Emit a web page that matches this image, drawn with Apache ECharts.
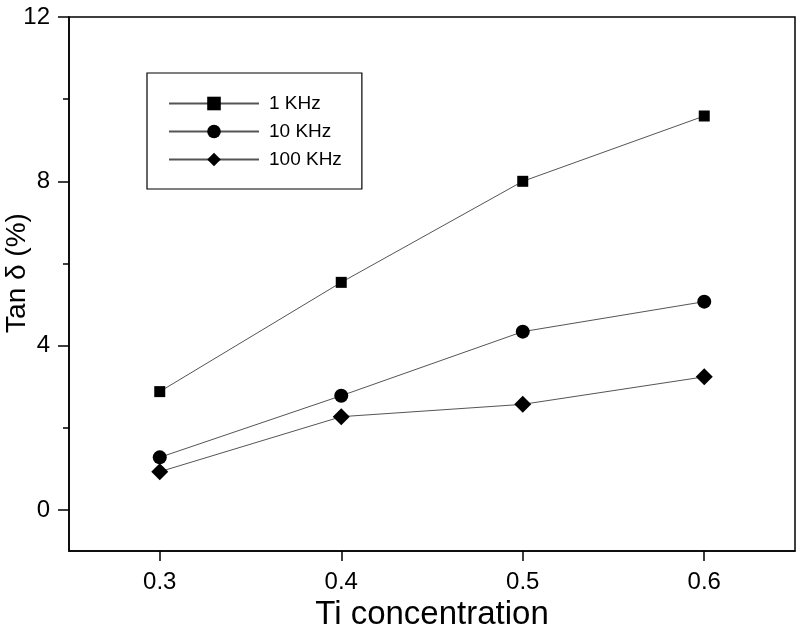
<!DOCTYPE html>
<html>
<head>
<meta charset="utf-8">
<script src="https://cdn.jsdelivr.net/npm/echarts@6/dist/echarts.min.js"></script>
<style>html,body{margin:0;padding:0;background:#fff;}#c{width:800px;height:637px;}</style>
</head>
<body>
<div id="c"></div>
<script>
const xValues = [0.3, 0.4, 0.5, 0.6];
const seriesNames = ['1 KHz', '10 KHz', '100 KHz'];
const tan1k = [2.88, 5.54, 8.0, 9.59];
const tan10k = [1.28, 2.78, 4.34, 5.07];
const tan100k = [0.93, 2.27, 2.57, 3.24];
const xTicks = [0.3, 0.4, 0.5, 0.6];
const yTicks = [0, 4, 8, 12];
const yMinorTicks = [2, 6, 10];

const FONT = '"Liberation Sans", Arial, sans-serif';
const chart = echarts.init(document.getElementById('c'), null, {renderer: 'canvas'});
function pts(v) { return xValues.map((x, i) => [x, v[i]]); }
const symbols = [['rect', 11], ['circle', 14], ['diamond', [17, 17]]];
const dataSets = [tan1k, tan10k, tan100k];

chart.setOption({
  animation: false,
  backgroundColor: '#fff',
  grid: {left: 69, top: 17, right: 5, bottom: 86, containLabel: false, outerBoundsMode: 'none',
         show: true, borderColor: '#000', borderWidth: 1.5, backgroundColor: 'transparent'},
  legend: {
    orient: 'vertical', left: 147, top: 73,
    padding: [21, 20, 20, 21],
    borderColor: '#000', borderWidth: 1.2,
    itemWidth: 90, itemHeight: 17, itemGap: 9,
    textStyle: {fontFamily: FONT, fontSize: 19, color: '#000', padding: [0, 0, 0, 5], lineHeight: 17},
    data: seriesNames
  },
  xAxis: {
    type: 'value', min: 0.25, max: 0.65,
    name: 'Ti concentration', nameLocation: 'middle', nameGap: 45,
    nameTextStyle: {fontFamily: FONT, fontSize: 33, color: '#000'},
    axisLine: {show: true, onZero: false, lineStyle: {color: '#000', width: 1.5}},
    axisTick: {show: true, inside: false, length: 10, customValues: xTicks, lineStyle: {color: '#000', width: 1.5}},
    axisLabel: {customValues: xTicks, margin: 19, fontFamily: FONT, fontSize: 24, color: '#000', formatter: v => v.toFixed(1)},
    splitLine: {show: false}
  },
  yAxis: [{
    type: 'value', min: -1, max: 12,
    name: 'Tan \u03b4 (%)', nameLocation: 'middle', nameGap: 38, nameMoveOverlap: false,
    nameTextStyle: {fontFamily: FONT, fontSize: 28, color: '#000', padding: [0, 0, 0, 22]},
    axisLine: {show: true, onZero: false, lineStyle: {color: '#000', width: 1.5}},
    axisTick: {show: true, inside: false, length: 11, customValues: yTicks, lineStyle: {color: '#000', width: 1.5}},
    axisLabel: {customValues: yTicks, margin: 19, fontFamily: FONT, fontSize: 24, color: '#000'},
    splitLine: {show: false}
  }, {
    type: 'value', min: -1, max: 12, position: 'left',
    axisLine: {show: false, onZero: false},
    axisTick: {show: true, inside: false, length: 6, customValues: yMinorTicks, lineStyle: {color: '#000', width: 1.5}},
    axisLabel: {show: false},
    splitLine: {show: false}
  }],
  series: seriesNames.map((n, i) => ({
    name: n, type: 'line', yAxisIndex: 0,
    data: pts(dataSets[i]),
    symbol: symbols[i][0], symbolSize: symbols[i][1],
    itemStyle: {color: '#000'},
    lineStyle: {color: '#555', width: 1},
    emphasis: {disabled: true}
  }))
});
</script>
</body>
</html>
